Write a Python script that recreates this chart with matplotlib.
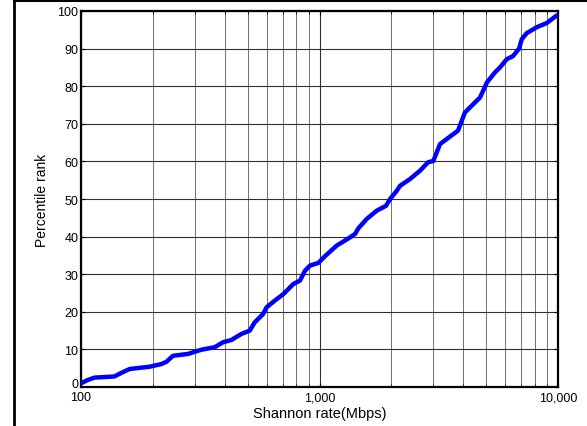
#!/usr/bin/env python3
"""Percentile rank of Shannon rate (log x axis), CDF-style curve."""
import matplotlib

matplotlib.use("Agg")
import matplotlib.pyplot as plt
from matplotlib.lines import Line2D
from matplotlib.ticker import FixedLocator, FuncFormatter, LogLocator, NullFormatter

# values
rate_mbps = [
    100, 107, 114, 138, 147, 160, 194, 217, 228, 243, 281, 319, 364, 394,
    427, 470, 510, 535, 580, 600, 650, 705, 777, 828, 869, 912, 989, 1055,
    1180, 1321, 1409, 1455, 1578, 1738, 1901, 1977, 2109, 2175, 2395, 2636,
    2857, 3000, 3200, 3810, 4070, 4345, 4710, 5035, 5445, 5715, 6100, 6475,
    6870, 7050, 7390, 8150, 8970, 9870,
]
percentile = [
    1.0, 1.9, 2.5, 2.8, 3.7, 4.8, 5.4, 6.1, 6.7, 8.3, 8.8, 9.9, 10.6, 11.9,
    12.5, 14.1, 15.0, 17.2, 19.4, 21.2, 23.0, 24.7, 27.4, 28.3, 30.9, 32.3,
    33.0, 34.8, 37.6, 39.5, 40.7, 42.2, 44.7, 46.9, 48.2, 50.0, 52.2, 53.5,
    55.3, 57.5, 59.8, 60.1, 64.6, 68.2, 73.0, 74.8, 77.0, 81.0, 83.7, 85.0,
    87.2, 88.0, 90.0, 92.5, 94.1, 95.7, 96.8, 98.8,
]
x_ticks = [100, 1000, 10000]
x_tick_labels = ["100", "1,000", "10,000"]
y_ticks = [0, 10, 20, 30, 40, 50, 60, 70, 80, 90, 100]

plt.rcParams["font.family"] = ["Liberation Sans", "DejaVu Sans"]

fig = plt.figure(figsize=(5.87, 4.27), dpi=100)
ax = fig.add_axes([0.138, 0.0913, 0.8126, 0.8806])

ax.plot(rate_mbps, percentile, color="#0000ff", lw=3.2, solid_capstyle="round",
        zorder=5)

ax.set_xscale("log")
ax.set_xlim(100, 10000)
ax.set_ylim(0, 100)
ax.xaxis.set_major_locator(FixedLocator(x_ticks))
ax.xaxis.set_major_formatter(FuncFormatter(
    lambda v, pos: x_tick_labels[x_ticks.index(int(round(v)))]
    if int(round(v)) in x_ticks else ""))
ax.xaxis.set_minor_locator(LogLocator(base=10, subs=range(2, 10)))
ax.xaxis.set_minor_formatter(NullFormatter())
ax.set_yticks(y_ticks)

ax.grid(True, which="major", color="#303030", lw=0.8)
ax.grid(True, which="minor", axis="x", color="#707070", lw=0.7)
ax.set_axisbelow(True)

ax.tick_params(which="both", direction="in", top=True, right=True,
               labelsize=9, colors="black")
ax.tick_params(axis="x", pad=3)
ax.tick_params(axis="y", pad=2)
ax.tick_params(which="major", length=3, width=0.8)
ax.tick_params(which="minor", length=2, width=0.6)
for side in ax.spines.values():
    side.set_linewidth(1.6)
# the "0" label sits on the axis line so it clears the "100" below it
ax.get_yticklabels()[0].set_verticalalignment("baseline")

ax.set_xlabel("Shannon rate(Mbps)", fontsize=10.5, labelpad=2)
ax.set_ylabel("Percentile rank", fontsize=10, labelpad=6)

# frame pieces around the figure (top and left edges)
fig.add_artist(Line2D([13.5 / 587, 1.0], [1 - 1 / 427, 1 - 1 / 427],
                      transform=fig.transFigure, color="black", lw=2.2))
fig.add_artist(Line2D([14 / 587, 14 / 587], [0.0, 1.0],
                      transform=fig.transFigure, color="black", lw=2.0))

fig.savefig("out.png", dpi=100)
plt.close(fig)
